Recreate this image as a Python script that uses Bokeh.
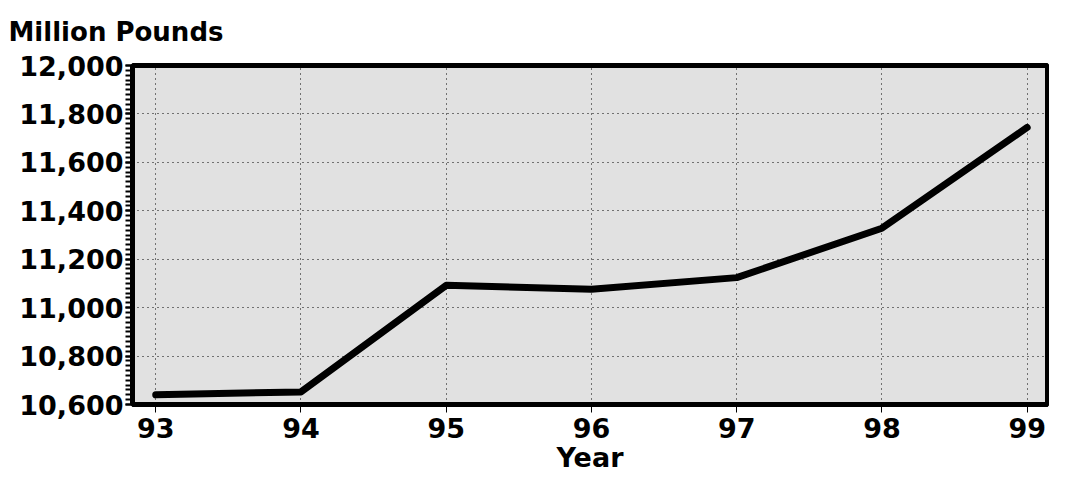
from bokeh.plotting import figure
from bokeh.models import Range1d, FixedTicker, NumeralTickFormatter
from bokeh.embed import file_html
from bokeh.resources import INLINE

years = [93, 94, 95, 96, 97, 98, 99]
pounds = [10640, 10652, 11092, 11076, 11124, 11328, 11744]
x_ticks = [93, 94, 95, 96, 97, 98, 99]
y_ticks = [10600, 10800, 11000, 11200, 11400, 11600, 11800, 12000]
x_title = "Year"
y_title = "Million Pounds"

FONT = "DejaVu Sans"

p = figure(width=1049, height=475, output_backend="svg", toolbar_location=None,
           x_range=Range1d(92.84, 99.14), y_range=Range1d(10600, 12000),
           min_border_left=132, min_border_right=2, min_border_top=0, min_border_bottom=0)

p.title.text = y_title
p.title.align = "left"
p.title.vertical_align = "top"
p.title.offset = -124
p.title.text_font = FONT
p.title.text_font_style = "bold"
p.title.text_font_size = "26px"
p.title.text_color = "black"
p.title.standoff = 33

p.background_fill_color = "#e1e1e1"
p.border_fill_color = "white"
p.outline_line_color = "black"
p.outline_line_width = 5

p.line(years, pounds, line_color="black", line_width=7, line_cap="round", line_join="round")

p.xaxis.ticker = FixedTicker(ticks=x_ticks)
p.yaxis.ticker = FixedTicker(ticks=y_ticks, minor_ticks=list(range(10600, 12001, 20)))
p.yaxis.formatter = NumeralTickFormatter(format="0,0")

for ax in (p.xaxis[0], p.yaxis[0]):
    ax.axis_line_color = "black"
    ax.axis_line_width = 5
    ax.major_label_text_font = FONT
    ax.major_label_text_font_style = "bold"
    ax.major_label_text_font_size = "27px"
    ax.major_label_text_color = "black"
    ax.major_tick_line_color = "black"
    ax.minor_tick_line_color = "black"

p.xaxis.major_tick_out = 8
p.xaxis.major_tick_in = 0
p.xaxis.minor_tick_out = 0
p.xaxis.major_label_standoff = 5
p.xaxis.axis_label = x_title
p.xaxis.axis_label_text_font = FONT
p.xaxis.axis_label_text_font_style = "bold"
p.xaxis.axis_label_text_font_size = "27px"
p.xaxis.axis_label_text_color = "black"
p.xaxis.axis_label_standoff = 1

p.yaxis.major_tick_out = 7
p.yaxis.major_tick_in = 0
p.yaxis.minor_tick_out = 7
p.yaxis.minor_tick_in = 0
p.yaxis.major_tick_line_width = 2
p.yaxis.minor_tick_line_width = 2
p.yaxis.major_label_standoff = 2

p.xgrid.grid_line_color = "black"
p.xgrid.grid_line_dash = "1 4"
p.xgrid.grid_line_width = 1
p.ygrid.grid_line_color = "black"
p.ygrid.grid_line_dash = "1 4"
p.ygrid.grid_line_width = 1

open("out.html", "w").write(file_html(p, INLINE))
